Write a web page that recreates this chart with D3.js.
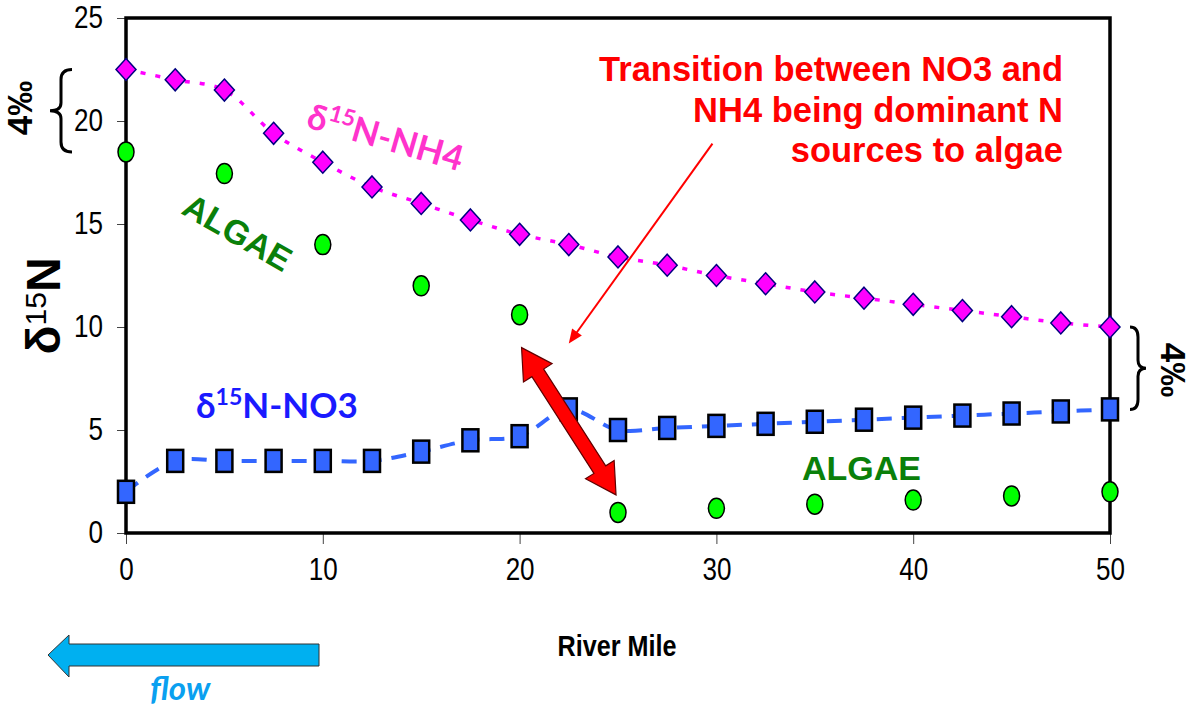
<!DOCTYPE html>
<meta charset="utf-8">
<style>
  body { margin: 0; background: #fff; }
  .axis .domain { display: none; }
  .axis line { stroke: #444; stroke-width: 1px; }
  .axis text { font: 31px "Liberation Sans", Arial, sans-serif; fill: #000; }
  .frame { fill: none; stroke: #000; stroke-width: 3.5px; }
</style>
<body>
<script src="https://cdn.jsdelivr.net/npm/d3@7"></script>
<script>
  // river miles where NH4 / NO3 were sampled
  var miles = [0, 2.5, 5, 7.5, 10, 12.5, 15, 17.5, 20, 22.5, 25, 27.5, 30, 32.5, 35, 37.5, 40, 42.5, 45, 47.5, 50];
  var nh4 = [22.5, 22.0, 21.5, 19.4, 18.0, 16.8, 16.0, 15.2, 14.5, 14.0, 13.4, 13.0, 12.5, 12.1, 11.7, 11.4, 11.1, 10.8, 10.5, 10.2, 10.0];
  var no3 = [2.0, 3.5, 3.5, 3.5, 3.5, 3.5, 3.95, 4.5, 4.7, 6.0, 5.0, 5.1, 5.2, 5.3, 5.4, 5.5, 5.6, 5.7, 5.8, 5.9, 6.0];
  var algaeMiles = [0, 5, 10, 15, 20, 25, 30, 35, 40, 45, 50];
  var algae = [18.5, 17.45, 14.0, 12.0, 10.6, 1.0, 1.2, 1.4, 1.6, 1.8, 2.0];
  var xTicks = [0, 10, 20, 30, 40, 50];
  var yTicks = [0, 5, 10, 15, 20, 25];

  var W = 1193, H = 708;
  var margin = {top: 18, right: 83, bottom: 175, left: 126};
  var width = W - margin.left - margin.right;
  var height = H - margin.top - margin.bottom;

  var x = d3.scaleLinear().domain([0, 50]).range([0, width]);
  var y = d3.scaleLinear().domain([0, 25]).range([height, 0]);

  // no narrow font installed: squeeze text horizontally instead
  function narrow(sel, k) {
    sel.each(function() {
      var w = this.getComputedTextLength();
      d3.select(this).attr("textLength", w * k).attr("lengthAdjust", "spacingAndGlyphs");
    });
  }

  var svg = d3.select("body").append("svg")
    .attr("width", W)
    .attr("height", H);

  var g = svg.append("g")
    .attr("transform", "translate(" + margin.left + "," + margin.top + ")");

  // Axes, ticks outside.
  g.append("g")
    .attr("class", "axis")
    .attr("transform", "translate(0," + height + ")")
    .call(d3.axisBottom(x).tickValues(xTicks).tickSize(11).tickPadding(26))
    .selectAll("text").attr("dy", "0.32em").call(narrow, 0.84);

  g.append("g")
    .attr("class", "axis")
    .call(d3.axisLeft(y).tickValues(yTicks).tickSize(9).tickPadding(14))
    .selectAll("text").call(narrow, 0.84);

  g.append("rect")
    .attr("class", "frame")
    .attr("width", width)
    .attr("height", height);

  // Lines.
  var pts = function(vals) { return miles.map(function(m, i) { return [m, vals[i]]; }); };
  var line = d3.line()
    .curve(d3.curveCatmullRom)
    .x(function(d) { return x(d[0]); })
    .y(function(d) { return y(d[1]); });

  g.append("path")
    .attr("d", line(pts(nh4)))
    .attr("fill", "none")
    .attr("stroke", "#ff00ff")
    .attr("stroke-width", 3.5)
    .attr("stroke-dasharray", "5,10");

  g.append("path")
    .attr("d", line(pts(no3)))
    .attr("fill", "none")
    .attr("stroke", "#3366ff")
    .attr("stroke-width", 4)
    .attr("stroke-dasharray", "15,10");

  // Markers.
  g.selectAll(".nh4")
    .data(pts(nh4))
    .enter().append("path")
    .attr("class", "nh4")
    .attr("d", "M0,-11L10,0L0,11L-10,0Z")
    .attr("transform", function(d) { return "translate(" + x(d[0]) + "," + y(d[1]) + ")"; })
    .attr("fill", "#ff00ff")
    .attr("stroke", "#000080")
    .attr("stroke-width", 1.5);

  g.selectAll(".no3")
    .data(pts(no3))
    .enter().append("rect")
    .attr("class", "no3")
    .attr("x", function(d) { return x(d[0]) - 8; })
    .attr("y", function(d) { return y(d[1]) - 11; })
    .attr("width", 16)
    .attr("height", 22)
    .attr("fill", "#3366ff")
    .attr("stroke", "#000")
    .attr("stroke-width", 2.5);

  g.selectAll(".algae")
    .data(algaeMiles.map(function(m, i) { return [m, algae[i]]; }))
    .enter().append("ellipse")
    .attr("class", "algae")
    .attr("cx", function(d) { return x(d[0]); })
    .attr("cy", function(d) { return y(d[1]); })
    .attr("rx", 8)
    .attr("ry", 10)
    .attr("fill", "#00ff00")
    .attr("stroke", "#000")
    .attr("stroke-width", 1.5);

  // Braces spanning 4 per mil.
  function brace(x0, y0, y1, depth) {
    var ym = (y0 + y1) / 2, d = depth, h = d / 2;
    return "M" + x0 + "," + y0 +
      "Q" + (x0 - h) + "," + y0 + " " + (x0 - h) + "," + (y0 + 10) +
      "L" + (x0 - h) + "," + (ym - 8) +
      "Q" + (x0 - h) + "," + ym + " " + (x0 - d) + "," + ym +
      "Q" + (x0 - h) + "," + ym + " " + (x0 - h) + "," + (ym + 8) +
      "L" + (x0 - h) + "," + (y1 - 10) +
      "Q" + (x0 - h) + "," + y1 + " " + x0 + "," + y1;
  }
  g.append("path")
    .attr("d", brace(-54, y(nh4[0]), y(algae[0]), 22))
    .attr("fill", "none").attr("stroke", "#000").attr("stroke-width", 3);
  g.append("path")
    .attr("d", brace(-width - 20, y(nh4[nh4.length - 1]), y(no3[no3.length - 1]), 16))
    .attr("transform", "scale(-1,1)")
    .attr("fill", "none").attr("stroke", "#000").attr("stroke-width", 3);

  svg.append("text")
    .attr("transform", "translate(32,108) rotate(-90)")
    .attr("text-anchor", "middle")
    .style("font", "bold 35px 'Liberation Sans', Arial, sans-serif")
    .text("4‰");
  svg.append("text")
    .attr("transform", "translate(1161,370) rotate(90)")
    .attr("text-anchor", "middle")
    .style("font", "bold 35px 'Liberation Sans', Arial, sans-serif")
    .text("4‰");

  // Axis titles.
  var yl = svg.append("text")
    .attr("transform", "translate(60,306) rotate(-90)")
    .attr("text-anchor", "middle")
    .style("font-family", "'Liberation Sans', Arial, sans-serif")
    .style("font-weight", "bold");
  yl.append("tspan").style("font-size", "48px").text("δ");
  yl.append("tspan").style("font-size", "30px").style("font-weight", "normal").attr("dy", -14).text("15");
  yl.append("tspan").style("font-size", "48px").attr("dy", 14).text("N");

  svg.append("text")
    .attr("x", 617).attr("y", 656)
    .attr("text-anchor", "middle")
    .style("font", "bold 30px 'Liberation Sans', Arial, sans-serif")
    .text("River Mile")
    .call(narrow, 0.84);

  // Series labels.
  function isoLabel(tx, ty, rot, color, rest) {
    var t = svg.append("text")
      .attr("transform", "translate(" + tx + "," + ty + ") rotate(" + rot + ")")
      .style("font-family", "Lato, 'Open Sans', sans-serif")
      .style("font-weight", "bold")
      .attr("fill", color);
    t.append("tspan").style("font-size", "35px").text("δ");
    t.append("tspan").style("font-size", "23px").attr("dy", -13).text("15");
    t.append("tspan").style("font-size", "35px").attr("dy", 13).text(rest);
  }
  isoLabel(305, 127, 16, "#ff33cc", "N-NH4");
  isoLabel(196, 418, 0, "#1a1aff", "N-NO3");

  svg.append("text")
    .attr("transform", "translate(180,213) rotate(30)")
    .style("font", "bold 34px 'Liberation Sans', Arial, sans-serif")
    .attr("fill", "#0a800a")
    .text("ALGAE");
  svg.append("text")
    .attr("x", 802).attr("y", 480)
    .style("font", "bold 34px 'Liberation Sans', Arial, sans-serif")
    .attr("fill", "#0a800a")
    .text("ALGAE");

  // Transition note, right aligned.
  var note = [["Transition between NO3 and", 81], ["NH4 being dominant N", 122], ["sources to algae", 162]];
  svg.selectAll(".note")
    .data(note)
    .enter().append("text")
    .attr("x", 1063)
    .attr("y", function(d) { return d[1]; })
    .attr("text-anchor", "end")
    .style("font", "bold 34.5px 'Liberation Sans', Arial, sans-serif")
    .attr("fill", "#ff0000")
    .text(function(d) { return d[0]; });

  // Thin pointer arrow (data units).
  var p0 = [x(29.8), y(18.9)], p1 = [x(22.5), y(9.2)];
  var ang = Math.atan2(p1[1] - p0[1], p1[0] - p0[0]);
  g.append("line")
    .attr("x1", p0[0]).attr("y1", p0[1])
    .attr("x2", p1[0] - 8 * Math.cos(ang)).attr("y2", p1[1] - 8 * Math.sin(ang))
    .attr("stroke", "#ff0000").attr("stroke-width", 2);
  g.append("path")
    .attr("d", "M0,0L-14,-6L-14,6Z")
    .attr("transform", "translate(" + p1[0] + "," + p1[1] + ") rotate(" + ang * 180 / Math.PI + ")")
    .attr("fill", "#ff0000");

  // Thick double-headed arrow.
  var a0 = [x(20.1), y(9.0)], a1 = [x(24.9), y(1.85)];
  var len = Math.hypot(a1[0] - a0[0], a1[1] - a0[1]);
  var sw = 7, hw = 17, hl = 30;
  var dbl = [[0, 0], [hl, -hw], [hl, -sw], [len - hl, -sw], [len - hl, -hw], [len, 0],
             [len - hl, hw], [len - hl, sw], [hl, sw], [hl, hw]];
  g.append("path")
    .attr("d", "M" + dbl.join("L") + "Z")
    .attr("transform", "translate(" + a0[0] + "," + a0[1] + ") rotate(" +
      Math.atan2(a1[1] - a0[1], a1[0] - a0[0]) * 180 / Math.PI + ")")
    .attr("fill", "#ff0000")
    .attr("stroke", "#600000")
    .attr("stroke-width", 1.2);

  // Flow arrow.
  var fl = [[48, 655], [69, 635], [69, 644], [319, 644], [319, 666], [69, 666], [69, 677]];
  svg.append("path")
    .attr("d", "M" + fl.join("L") + "Z")
    .attr("fill", "#00b0f0")
    .attr("stroke", "#333")
    .attr("stroke-width", 1);
  svg.append("text")
    .attr("x", 150).attr("y", 700)
    .style("font", "italic bold 33px Lato, 'Open Sans', sans-serif")
    .attr("fill", "#0aa0f0")
    .text("flow");
</script>
